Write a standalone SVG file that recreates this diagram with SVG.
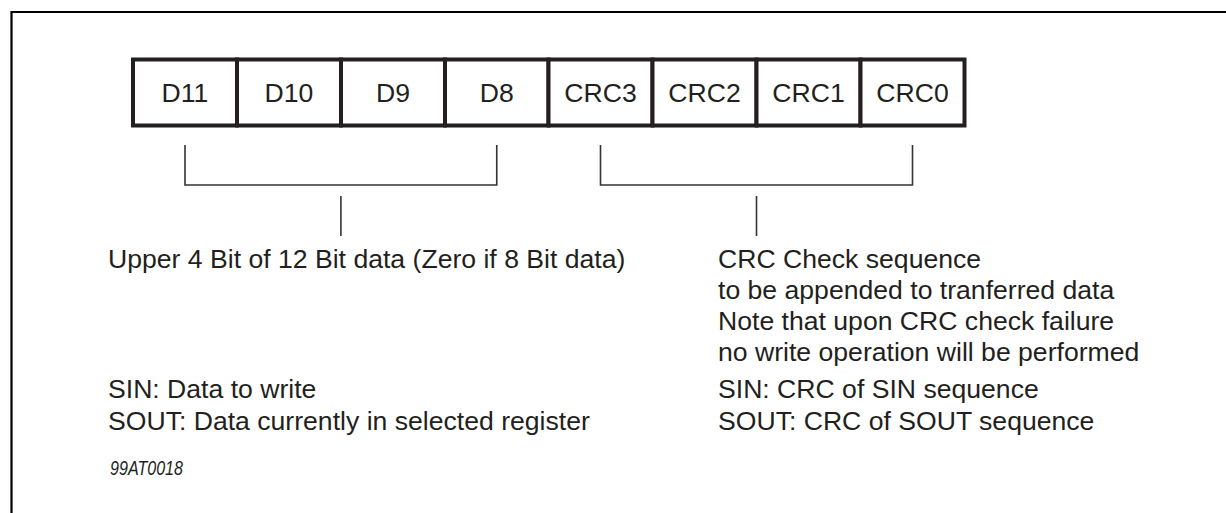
<svg xmlns="http://www.w3.org/2000/svg" width="1226" height="513" viewBox="0 0 1226 513">
<style>
  .cell { fill: #ffffff; stroke: #231f20; stroke-width: 4; }
  .lbl { font-family: "Liberation Sans", Arial, sans-serif; font-size: 26.6px; fill: #231f20; }
  .cl { text-anchor: middle; }
  .br { fill: none; stroke: #333333; stroke-width: 1.6; }
  .frame { fill: none; stroke: #000000; stroke-width: 2.2; }
  .ref { font-family: "Liberation Sans", Arial, sans-serif; font-style: italic; font-size: 20px; fill: #231f20; }
</style>
<rect width="1226" height="513" fill="#ffffff"/>
<path class="frame" d="M11.5 513 V12 H1226"/>

<g id="register">
  <g id="cell-d11"><rect class="cell" x="133" y="59.5" width="104" height="66"/><text class="lbl cl" x="185" y="102">D11</text></g>
  <g id="cell-d10"><rect class="cell" x="237" y="59.5" width="104" height="66"/><text class="lbl cl" x="289" y="102">D10</text></g>
  <g id="cell-d9"><rect class="cell" x="341" y="59.5" width="104" height="66"/><text class="lbl cl" x="393" y="102">D9</text></g>
  <g id="cell-d8"><rect class="cell" x="445" y="59.5" width="103.5" height="66"/><text class="lbl cl" x="496.75" y="102">D8</text></g>
  <g id="cell-crc3"><rect class="cell" x="548.5" y="59.5" width="104" height="66"/><text class="lbl cl" x="600.5" y="102">CRC3</text></g>
  <g id="cell-crc2"><rect class="cell" x="652.5" y="59.5" width="104" height="66"/><text class="lbl cl" x="704.5" y="102">CRC2</text></g>
  <g id="cell-crc1"><rect class="cell" x="756.5" y="59.5" width="104" height="66"/><text class="lbl cl" x="808.5" y="102">CRC1</text></g>
  <g id="cell-crc0"><rect class="cell" x="860.5" y="59.5" width="104" height="66"/><text class="lbl cl" x="912.5" y="102">CRC0</text></g>
</g>

<g id="connectors">
  <path class="br" d="M185 145 V185 H496.75 V145"/>
  <path class="br" d="M340.9 196 V236"/>
  <path class="br" d="M600.5 145 V185 H912.5 V145"/>
  <path class="br" d="M756.5 196 V236"/>
</g>

<g id="data-desc">
  <text class="lbl" x="108" y="268">Upper 4 Bit of 12 Bit data (Zero if 8 Bit data)</text>
  <text class="lbl" x="108" y="398">SIN: Data to write</text>
  <text class="lbl" x="108" y="430">SOUT: Data currently in selected register</text>
</g>

<g id="crc-desc">
  <text class="lbl" x="718" y="268">CRC Check sequence</text>
  <text class="lbl" x="718" y="299">to be appended to tranferred data</text>
  <text class="lbl" x="718" y="330">Note that upon CRC check failure</text>
  <text class="lbl" x="718" y="361">no write operation will be performed</text>
  <text class="lbl" x="718" y="398">SIN: CRC of SIN sequence</text>
  <text class="lbl" x="718" y="430">SOUT: CRC of SOUT sequence</text>
</g>

<text class="ref" x="110" y="475" textLength="73" lengthAdjust="spacingAndGlyphs">99AT0018</text>
</svg>
